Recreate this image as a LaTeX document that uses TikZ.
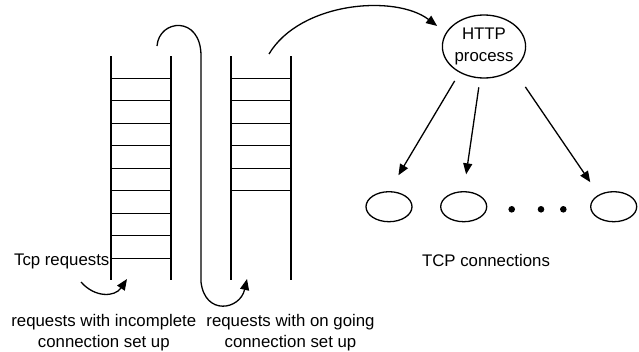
\documentclass[tikz,border=0pt]{standalone}
\usepackage{fontspec}
\setmainfont{Liberation Sans}
\usetikzlibrary{arrows.meta, positioning, shapes.geometric}

\begin{document}
\begin{tikzpicture}[x=1pt, y=-1pt, line width=1.3pt,
    font=\fontsize{16.8}{21.5}\selectfont,
    arr/.style={-{Triangle[length=11pt, width=9pt]}},
    conn/.style={draw, ellipse, minimum width=46pt, minimum height=30pt, inner sep=0pt}]
    \useasboundingbox (0, 0) rectangle (639, 351);

    % 未完成连接队列
    \draw (111, 56) -- (111, 280);
    \draw (171, 56) -- (171, 280);
    \foreach \k in {0,...,8}
        \draw (111, 78.3+22.5*\k) -- (171, 78.3+22.5*\k);

    % 已完成连接队列
    \draw (231, 56) -- (231, 280);
    \draw (291, 56) -- (291, 280);
    \foreach \k in {0,...,5}
        \draw (231, 78.3+22.5*\k) -- (291, 78.3+22.5*\k);

    % 标签
    \node[anchor=east, inner sep=0pt] (tcpreq) at (110, 261) {Tcp requests};
    \node[align=center] (incomplete) at (103.8, 332.5) {requests with incomplete\\connection set up};
    \node[align=center] (ongoing) at (290.5, 332.5) {requests with on going\\connection set up};

    % 进程与连接
    \node[draw, ellipse, minimum width=74pt, minimum height=63pt, inner sep=0pt, align=center] (http) at (484, 46.5) {HTTP\\process};
    \node[conn] (c1) at (389, 206.7) {};
    \node[conn] (c2) at (463.7, 206.7) {};
    \node[conn] (c3) at (613.7, 206.7) {};
    \fill (511.7, 209.3) circle (3.3);
    \fill (541, 209.3) circle (3.3);
    \fill (563.3, 209.3) circle (3.3);
    \node (tcpconn) at (486, 260) {TCP connections};

    % 箭头
    \draw[arr] (81, 282) .. controls (95, 298) and (115, 297) .. (127, 279);
    \draw[arr] (157, 46) .. controls (159, 19) and (201, 15) .. (201, 56)
        -- (201, 282) .. controls (205, 316) and (240, 310) .. (247, 279);
    \draw[arr, shorten >=11pt] (269, 54) .. controls (300, 2) and (395, -6) .. (http.160);

    \draw[arr, shorten <=9.5pt, shorten >=18.4pt] (http.227) -- (c1.north);
    \draw[arr, shorten <=8.9pt, shorten >=16.9pt] (http.263) -- (c2.north);
    \draw[arr, shorten <=21pt, shorten >=15pt] (http.322) -- (c3.141);
\end{tikzpicture}
\end{document}
